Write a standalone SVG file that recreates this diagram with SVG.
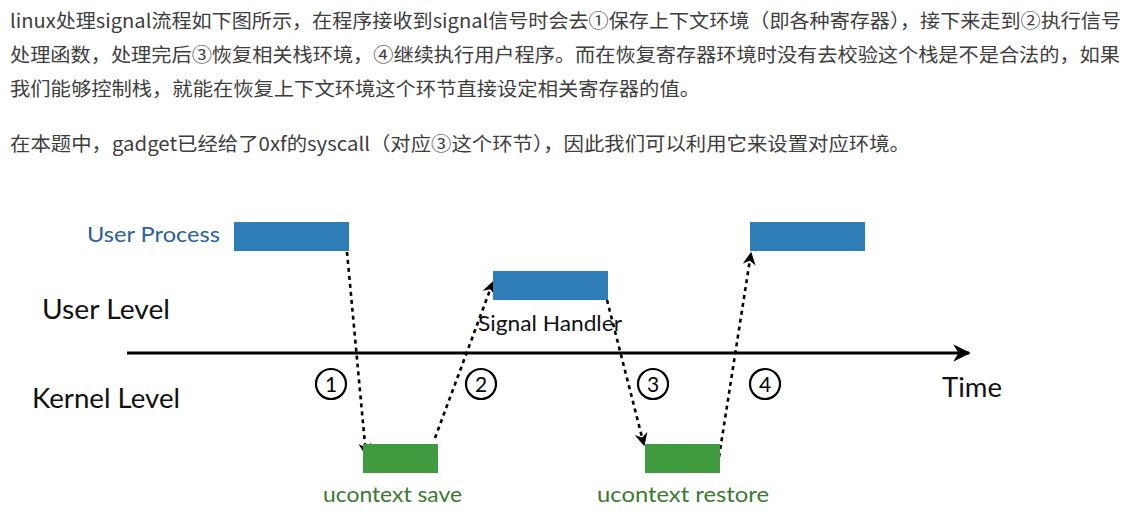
<svg xmlns="http://www.w3.org/2000/svg" width="1129" height="522" viewBox="0 0 1129 522">
<style>
.para{font-family:"Noto Sans CJK SC","Microsoft YaHei",sans-serif;font-size:19px;fill:#3d3d3d}
.lbl{font-family:Lato,"Open Sans",sans-serif;fill:#111}
.blue{fill:#2f7db6}
.green{fill:#3f9b3d}
.dash{fill:none;stroke:#000;stroke-width:2.6;stroke-dasharray:4 4}
.circ{fill:none;stroke:#000;stroke-width:2.2}
.num{font-family:Lato,"Open Sans",sans-serif;font-size:21px;fill:#000;text-anchor:middle}
</style>
<defs>
<marker id="ah" viewBox="0 0 10 10" refX="9" refY="5" markerWidth="5" markerHeight="5" orient="auto" markerUnits="strokeWidth">
<path d="M0,0 L10,5 L0,10 L3,5 Z" fill="#000"/>
</marker>
<marker id="axh" viewBox="0 0 10 10" refX="9" refY="5" markerWidth="6" markerHeight="5.5" orient="auto" markerUnits="strokeWidth">
<path d="M0,0 L10,5 L0,10 L3,5 Z" fill="#000"/>
</marker>
</defs>
<rect width="1129" height="522" fill="#fff"/>
<g id="paragraph">
<text class="para" x="10" y="28" textLength="1111" lengthAdjust="spacingAndGlyphs">linux处理signal流程如下图所示，在程序接收到signal信号时会去①保存上下文环境（即各种寄存器），接下来走到②执行信号</text>
<text class="para" x="10" y="62" textLength="1110" lengthAdjust="spacingAndGlyphs">处理函数，处理完后③恢复相关栈环境，④继续执行用户程序。而在恢复寄存器环境时没有去校验这个栈是不是合法的，如果</text>
<text class="para" x="10" y="96" textLength="690" lengthAdjust="spacingAndGlyphs">我们能够控制栈，就能在恢复上下文环境这个环节直接设定相关寄存器的值。</text>
<text class="para" x="10" y="151" textLength="900" lengthAdjust="spacingAndGlyphs">在本题中，gadget已经给了0xf的syscall（对应③这个环节），因此我们可以利用它来设置对应环境。</text>
</g>
<g id="level-labels">
<text class="lbl" x="42" y="319" font-size="26" textLength="128" lengthAdjust="spacingAndGlyphs">User Level</text>
<text class="lbl" x="32" y="408" font-size="26" textLength="148" lengthAdjust="spacingAndGlyphs">Kernel Level</text>
<text class="lbl" x="942" y="397" font-size="26" textLength="60" lengthAdjust="spacingAndGlyphs">Time</text>
</g>
<g id="axis">
<line x1="127" y1="353" x2="969" y2="353" stroke="#000" stroke-width="3.2" marker-end="url(#axh)"/>
</g>
<g id="connectors">
<path class="dash" d="M347,252 L366,455" marker-end="url(#ah)"/>
<path class="dash" d="M435,438 L493,282" marker-end="url(#ah)"/>
<path class="dash" d="M607,300 L644,445" marker-end="url(#ah)"/>
<path class="dash" d="M719,457 L751,253" marker-end="url(#ah)"/>
</g>
<g id="user-process">
<rect class="blue" x="234" y="222" width="115" height="29"/>
<text x="87" y="242" font-family="Lato,'Open Sans',sans-serif" font-size="22" fill="#2b5f9e" textLength="133" lengthAdjust="spacingAndGlyphs">User Process</text>
</g>
<g id="signal-handler">
<rect class="blue" x="493" y="271" width="115" height="29"/>
<text class="lbl" x="478" y="331" font-size="22" textLength="144" lengthAdjust="spacingAndGlyphs">Signal Handler</text>
</g>
<g id="user-process-resume">
<rect class="blue" x="750" y="222" width="115" height="29"/>
</g>
<g id="ucontext-save">
<rect class="green" x="363" y="444" width="75" height="29"/>
<text x="323" y="502" font-family="Lato,'Open Sans',sans-serif" font-size="21" fill="#3a7a2e" textLength="139" lengthAdjust="spacingAndGlyphs">ucontext save</text>
</g>
<g id="ucontext-restore">
<rect class="green" x="645" y="444" width="75" height="29"/>
<text x="597" y="502" font-family="Lato,'Open Sans',sans-serif" font-size="21" fill="#3a7a2e" textLength="172" lengthAdjust="spacingAndGlyphs">ucontext restore</text>
</g>
<g id="steps">
<circle class="circ" cx="331" cy="384" r="15"/><text class="num" x="331" y="391.5">1</text>
<circle class="circ" cx="481" cy="384" r="15"/><text class="num" x="481" y="391.5">2</text>
<circle class="circ" cx="653" cy="384" r="15"/><text class="num" x="653" y="391.5">3</text>
<circle class="circ" cx="765" cy="384" r="15"/><text class="num" x="765" y="391.5">4</text>
</g>
</svg>
